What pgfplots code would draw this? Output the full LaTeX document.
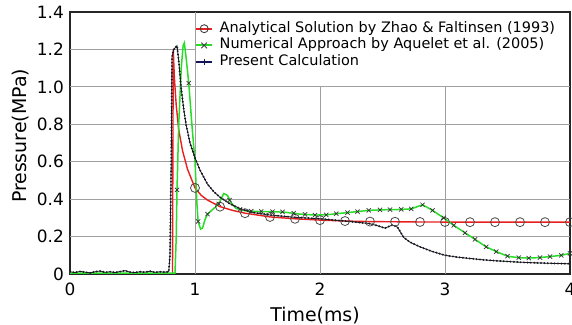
\documentclass[border=0pt]{standalone}
\usepackage{fontspec}
\setmainfont{DejaVu Sans}
\usepackage{pgfplots}
\pgfplotsset{compat=1.18}
\usepackage{pgfplotstable}
\definecolor{cred}{RGB}{235,30,30}
\definecolor{cgreen}{RGB}{40,220,40}
\definecolor{cblack}{RGB}{25,25,35}
\definecolor{cnavy}{RGB}{20,20,90}
\tikzset{gridl/.style={gray!75, line width=0.9bp}}

\pgfplotstableread{
t p
0 0.0
0.82 0.0
0.823 0.6
0.826 1.2
0.835 1.05
0.85 0.9
0.87 0.77
0.90 0.66
0.94 0.56
1.00 0.46
1.05 0.42
1.10 0.395
1.20 0.36
1.30 0.34
1.40 0.325
1.60 0.305
1.80 0.295
2.00 0.288
2.20 0.283
2.40 0.280
2.80 0.278
3.20 0.277
4.00 0.277
}\redline

\pgfplotstableread{
t p
1.0 0.46
1.2 0.36
1.4 0.325
1.6 0.305
1.8 0.295
2.0 0.288
2.2 0.283
2.4 0.280
2.6 0.279
2.8 0.278
3.0 0.278
3.2 0.277
3.4 0.277
3.6 0.277
3.8 0.277
4.0 0.277
}\redmarks

\pgfplotstableread{
t p
0 0.005
0.84 0.005
0.85 0.2
0.856 0.45
0.87 0.8
0.89 1.1
0.905 1.22
0.915 1.235
0.93 1.15
0.95 1.02
0.975 0.8
1.00 0.6
1.015 0.38
1.025 0.28
1.045 0.24
1.06 0.245
1.08 0.29
1.10 0.32
1.15 0.35
1.19 0.375
1.23 0.43
1.26 0.42
1.29 0.38
1.33 0.35
1.40 0.338
1.50 0.334
1.62 0.333
1.72 0.33
1.84 0.32
1.96 0.315
2.05 0.316
2.13 0.322
2.25 0.33
2.39 0.34
2.50 0.343
2.65 0.345
2.73 0.348
2.82 0.37
2.90 0.34
2.99 0.30
3.07 0.26
3.16 0.22
3.24 0.185
3.33 0.145
3.41 0.12
3.50 0.095
3.59 0.087
3.67 0.085
3.76 0.088
3.84 0.093
3.93 0.10
4.00 0.11
}\greenline

\pgfplotstableread{
t p
0.856 0.45
0.95 1.02
1.025 0.28
1.10 0.32
1.19 0.375
1.276 0.395
1.36 0.345
1.45 0.336
1.53 0.334
1.62 0.333
1.70 0.332
1.79 0.325
1.88 0.318
1.96 0.315
2.05 0.316
2.13 0.322
2.22 0.328
2.30 0.333
2.39 0.340
2.48 0.343
2.56 0.344
2.65 0.345
2.73 0.348
2.82 0.37
2.90 0.34
2.99 0.30
3.07 0.26
3.16 0.22
3.24 0.185
3.33 0.145
3.41 0.12
3.50 0.095
3.59 0.087
3.67 0.085
3.76 0.088
3.84 0.093
3.93 0.10
4.00 0.11
}\greenmarks

\pgfplotstableread{
t p
0 0.012
0.04 0.008
0.08 0.014
0.12 0.010
0.16 0.006
0.20 0.012
0.24 0.016
0.28 0.009
0.32 0.012
0.36 0.008
0.40 0.013
0.44 0.018
0.48 0.010
0.52 0.008
0.56 0.012
0.60 0.010
0.64 0.015
0.68 0.009
0.72 0.012
0.76 0.010
0.79 0.012
0.80 0.10
0.81 0.60
0.816 1.16
0.83 1.20
0.856 1.22
0.87 1.14
0.888 1.00
0.91 0.88
0.928 0.80
0.96 0.70
1.00 0.62
1.04 0.555
1.10 0.48
1.15 0.44
1.20 0.41
1.28 0.375
1.36 0.35
1.45 0.33
1.60 0.315
1.80 0.303
2.00 0.295
2.20 0.283
2.39 0.27
2.45 0.26
2.52 0.245
2.58 0.262
2.62 0.25
2.67 0.195
2.72 0.17
2.80 0.145
2.90 0.12
3.00 0.10
3.10 0.09
3.20 0.083
3.30 0.076
3.40 0.071
3.50 0.067
3.60 0.063
3.70 0.060
3.80 0.058
3.90 0.056
4.00 0.055
}\blackline

\begin{document}
\begin{tikzpicture}
\begin{axis}[
  scale only axis, width=500bp, height=262bp,
  xmin=0, xmax=4, ymin=0, ymax=1.4,
  xtick={0,1,2,3,4}, xticklabels={0,1,2,3,4},
  ytick={0,0.2,0.4,0.6,0.8,1.0,1.2,1.4},
  yticklabels={0,0.2,0.4,0.6,0.8,1.0,1.2,1.4},
  major tick length=0pt,
  axis line style={black!85, line width=1.6bp},
  tick label style={font=\fontsize{17}{20}\selectfont},
  yticklabel style={inner sep=0pt, xshift=-6bp},
  xticklabel style={inner sep=0pt, yshift=-9bp},
  xlabel={Time(ms)}, ylabel={Pressure(MPa)},
  label style={font=\fontsize{19}{22}\selectfont},
  xlabel style={at={(axis description cs:0.49,-0.16)}, anchor=center},
  ylabel style={at={(axis description cs:-0.098,0.527)}, anchor=center},
  legend style={at={(axis cs:1,1.4)}, anchor=north west, xshift=-2bp, yshift=-6.5bp,
    draw=none, fill=none, font=\fontsize{14.5}{16}\selectfont, row sep=0.7bp,
    inner sep=2bp, nodes={inner sep=1.5bp, text height=10bp, text depth=3bp},
    /tikz/every odd column/.append style={column sep=5bp}},
  legend cell align=left,
  legend image code/.code={\draw[mark repeat=2,mark phase=2,#1] plot coordinates {(0bp,0bp)(8bp,0bp)(16bp,0bp)};},
]
% grid lines (hidden behind the legend box above 1.0 for t > 1)
\draw[gridl] (axis cs:1,0) -- (axis cs:1,1.4);
\draw[gridl] (axis cs:2,0) -- (axis cs:2,1.0);
\draw[gridl] (axis cs:3,0) -- (axis cs:3,1.0);
\draw[gridl] (axis cs:0,0.2) -- (axis cs:4,0.2);
\draw[gridl] (axis cs:0,0.4) -- (axis cs:4,0.4);
\draw[gridl] (axis cs:0,0.6) -- (axis cs:4,0.6);
\draw[gridl] (axis cs:0,0.8) -- (axis cs:4,0.8);
\draw[gridl] (axis cs:0,1.0) -- (axis cs:4,1.0);
\draw[gridl] (axis cs:0,1.2) -- (axis cs:1,1.2);
\addplot[cred, line width=1.4bp, forget plot] table {\redline};
\addplot[cgreen, line width=1.5bp, forget plot] table {\greenline};
\addplot[cblack, line width=0.8bp, forget plot] table {\blackline};
\addplot[cblack, line width=2.2bp, dash pattern=on 0bp off 3.4bp, line cap=round, forget plot] table {\blackline};
\addplot[only marks, mark=o, mark size=4.5bp, mark options={black!70, line width=0.8bp}, forget plot] table {\redmarks};
\addplot[only marks, mark=x, mark size=3bp, mark options={black!80, line width=0.7bp}, forget plot] table {\greenmarks};
\addlegendimage{cred, line width=2bp, mark=o, mark options={black!75, line width=0.9bp, mark size=4bp}}
\addlegendentry{Analytical Solution by Zhao \& Faltinsen (1993)}
\addlegendimage{cgreen, line width=2bp, mark=x, mark options={black!75, line width=0.9bp, mark size=4bp}}
\addlegendentry{Numerical Approach by Aquelet et al. (2005)}
\addlegendimage{cnavy, line width=1.8bp, mark=+, mark options={cnavy, line width=1bp, mark size=3bp}}
\addlegendentry{Present Calculation}
\end{axis}
\pgfresetboundingbox
\path[use as bounding box] ([shift={(-70bp,-51bp)}]current axis.south west) rectangle ([shift={(2bp,12bp)}]current axis.north east);
\end{tikzpicture}
\end{document}
